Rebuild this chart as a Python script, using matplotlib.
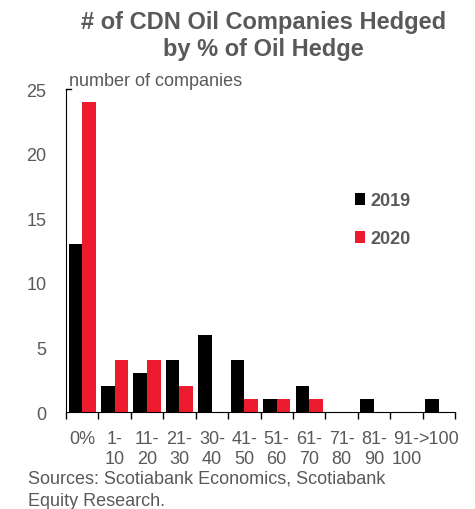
import numpy as np
import matplotlib
matplotlib.use("Agg")
import matplotlib.pyplot as plt
from matplotlib.ticker import FixedLocator

categories = ["0%", "1-\n10", "11-\n20", "21-\n30", "30-\n40", "41-\n50",
              "51-\n60", "61-\n70", "71-\n80", "81-\n90", "91-\n100", ">100"]
vals_2019 = [13, 2, 3, 4, 6, 4, 1, 2, 0, 1, 0, 1]
vals_2020 = [24, 4, 4, 2, 0, 1, 1, 1, 0, 0, 0, 0]

grey = "#595959"
red = "#EC1C2E"
plt.rcParams["font.family"] = ["Liberation Sans", "DejaVu Sans"]

fig = plt.figure(figsize=(4.75, 5.1), dpi=100)
ax = fig.add_axes([0.139, 0.19, 0.819, 0.6335])

x = np.arange(len(categories)) + 0.5
w = 0.42
ax.bar(x - w / 2, vals_2019, width=w, color="black", label="2019")
ax.bar(x + w / 2, vals_2020, width=w, color=red, label="2020")

ax.set_xlim(0, len(categories))
ax.set_ylim(0, 25)
ax.set_yticks([0, 5, 10, 15, 20, 25])
ax.tick_params(axis="y", length=0, labelsize=13, labelcolor=grey, pad=14)
ax.set_xticks(x)
ax.set_xticklabels(categories, fontsize=13, color=grey, linespacing=1.25)
ax.tick_params(axis="x", which="major", length=0, pad=13)
ax.xaxis.set_minor_locator(FixedLocator(np.arange(len(categories) + 1)))
ax.tick_params(axis="x", which="minor", length=5, width=1, color="black")

for s in ["top", "right"]:
    ax.spines[s].set_visible(False)
ax.spines["left"].set_color("black")
ax.spines["bottom"].set_color("black")
ax.plot([0, 0.012], [25, 25], color="black", lw=1, clip_on=False, transform=ax.get_yaxis_transform())

leg = ax.legend(loc="upper left", bbox_to_anchor=(0.7, 0.73), frameon=False,
                handlelength=0.6, handleheight=0.6, handletextpad=0.3,
                labelspacing=1.15, prop={"weight": "bold", "size": 13})
for t in leg.get_texts():
    t.set_color(grey)

fig.text(0.555, 0.978, "# of CDN Oil Companies Hedged\nby % of Oil Hedge", ha="center", va="top",
         fontsize=17, fontweight="bold", color=grey, linespacing=1.2)
fig.text(0.145, 0.824, "number of companies", fontsize=13, color=grey, va="bottom")
fig.text(0.06, 0.077, "Sources: Scotiabank Economics, Scotiabank\nEquity Research.",
         fontsize=13, color=grey, va="top", linespacing=1.4)

fig.savefig("out.png", dpi=100)
